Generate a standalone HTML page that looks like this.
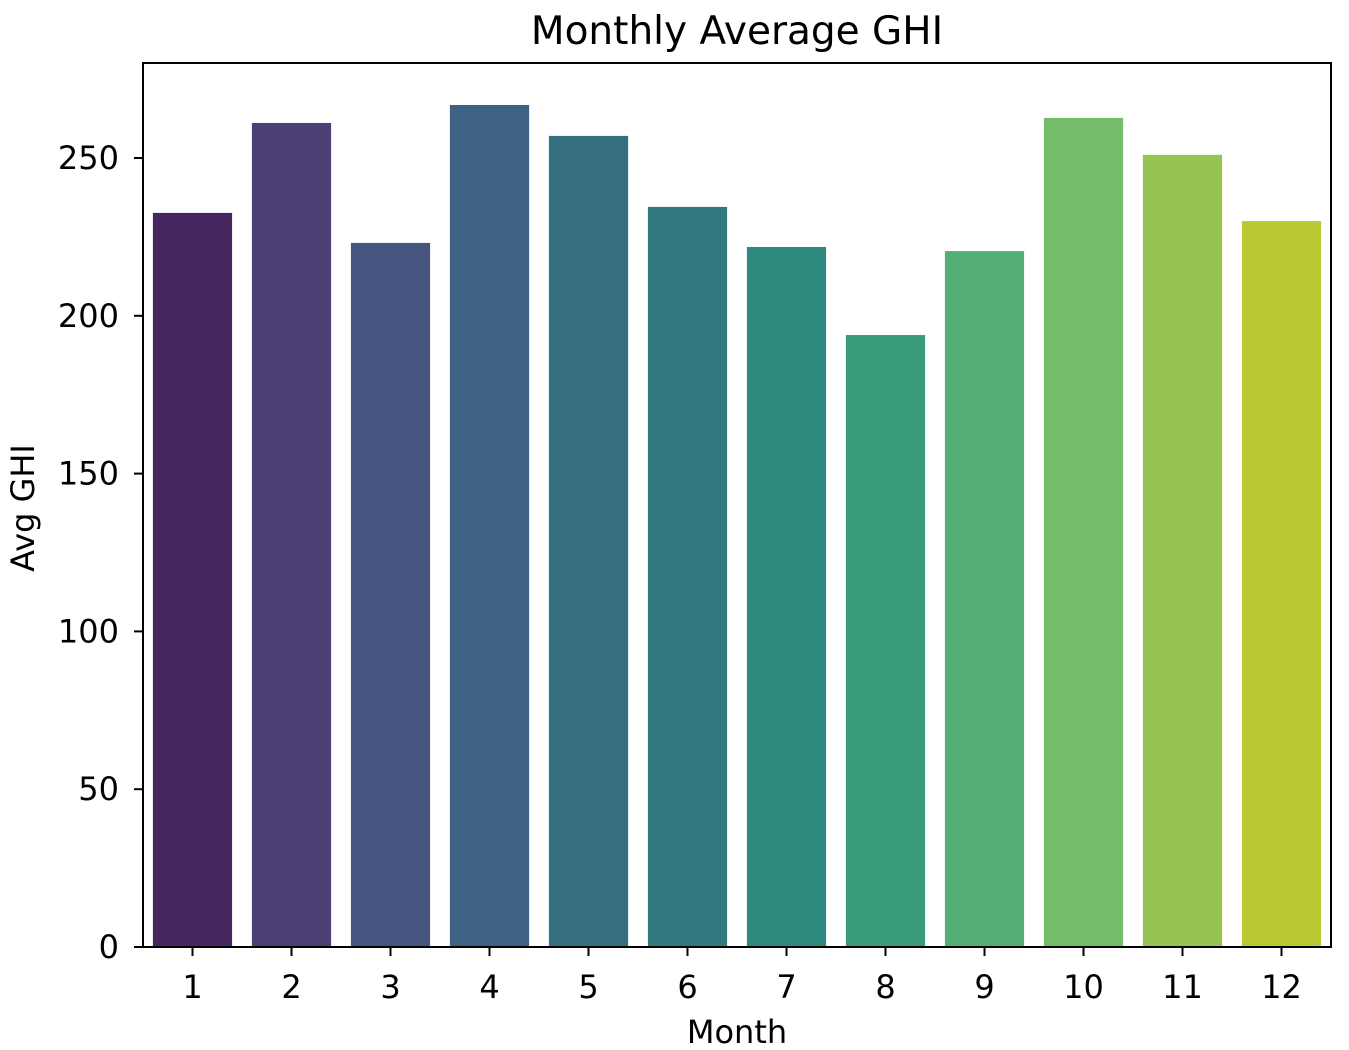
<!DOCTYPE html>
<html><head><meta charset="utf-8"><style>
html,body{margin:0;padding:0;background:#fff;}
svg{display:block;font-family:"DejaVu Sans","Liberation Sans",sans-serif;}
</style></head><body>
<svg id="chart" width="1349" height="1050"></svg>
<script>
const months = ["1","2","3","4","5","6","7","8","9","10","11","12"];
const avgGhi = [232.6, 261.1, 223.1, 266.8, 257.0, 234.5, 221.8, 193.9, 220.5, 262.7, 251.0, 230.0];
const barColors = ["#47255f","#4b3f76","#465480","#3e6283","#366f80","#317b80","#2e897f","#379b7c","#52ae74","#74be6a","#95c550","#b9c835"];
const yTicks = [0, 50, 100, 150, 200, 250];

const NS = "http://www.w3.org/2000/svg";
const svg = document.getElementById("chart");
const L = 143, R = 1331, T = 63, B = 947, yMax = 280.1;
const band = (R - L) / months.length;
const xPos = i => L + band * i + band / 2;
const yPos = v => B - (v / yMax) * (B - T);
function mk(tag, attrs, parent) {
  const e = document.createElementNS(NS, tag);
  for (const k in attrs) e.setAttribute(k, attrs[k]);
  (parent || svg).appendChild(e);
  return e;
}
avgGhi.forEach((v, i) => {
  const r = mk("rect", {x: xPos(i) - band * 0.4, y: yPos(v), width: band * 0.8, height: B - yPos(v), fill: barColors[i]});
  
  
});
const frame = mk("rect", {x: L, y: T, width: R - L, height: B - T, fill: "none", stroke: "#000", "stroke-width": 2});


yTicks.forEach(t => {
  const y = yPos(t);
  mk("line", {x1: L - 9, x2: L, y1: y, y2: y, stroke: "#000", "stroke-width": 2});
  const tx = mk("text", {x: L - 24, y: y + 11, "text-anchor": "end", "font-size": 32});
  tx.textContent = t;
  
  
});
months.forEach((m, i) => {
  const x = xPos(i);
  mk("line", {x1: x, x2: x, y1: B, y2: B + 9, stroke: "#000", "stroke-width": 2});
  const tx = mk("text", {x: x, y: B + 51, "text-anchor": "middle", "font-size": 32});
  tx.textContent = m;
  
  
});
const title = mk("text", {x: (L + R) / 2, y: 44, "text-anchor": "middle", "font-size": 39});
title.textContent = "Monthly Average GHI";


const xl = mk("text", {x: (L + R) / 2, y: 1043, "text-anchor": "middle", "font-size": 32});
xl.textContent = "Month";


const yl = mk("text", {x: 0, y: 0, "text-anchor": "middle", "font-size": 32, transform: "translate(34," + ((T + B) / 2 + 3) + ") rotate(-90)"});
yl.textContent = "Avg GHI";


</script>
</body></html>
